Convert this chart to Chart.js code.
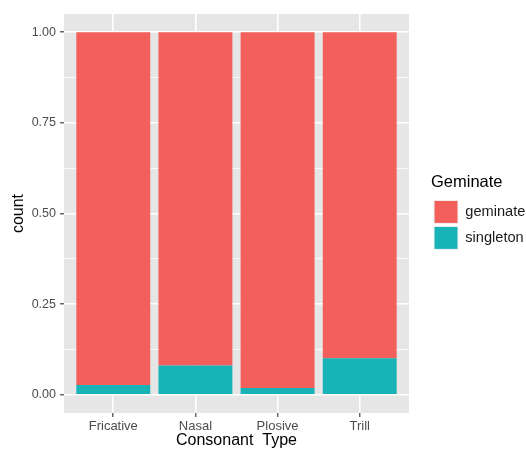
<!DOCTYPE html>
<html>
<head>
<meta charset="utf-8">
<script src="https://cdn.jsdelivr.net/npm/chart.js@4.4.0/dist/chart.umd.min.js"></script>
<style>
    html, body { margin: 0; padding: 0; background: #fff; }
    #wrap { width: 526px; height: 450px; }
</style>
</head>
<body>
<div id="wrap"><canvas id="chart"></canvas></div>
<script>
// Data (share of each consonant type)
const categories = ['Fricative', 'Nasal', 'Plosive', 'Trill'];
const singletonShare = [0.027, 0.081, 0.019, 0.101];
const geminateShare = [0.973, 0.919, 0.981, 0.899];
const yTicks = [0, 0.125, 0.25, 0.375, 0.5, 0.625, 0.75, 0.875, 1];
const yLabels = ['0.00', '', '0.25', '', '0.50', '', '0.75', '', '1.00'];

const red = '#F35F5B';
const teal = '#18B3B7';
const panelGrey = '#E6E6E6';

Chart.defaults.font.family = '"Liberation Sans", Arial, sans-serif';

// Grey ggplot-like panel behind the grid
const panelBackground = {
    id: 'panelBackground',
    beforeDraw(chart) {
        const { ctx, chartArea: a } = chart;
        ctx.save();
        ctx.fillStyle = panelGrey;
        ctx.fillRect(a.left, a.top, a.right - a.left, a.bottom - a.top);
        ctx.restore();
    }
};

// Legend box runs to the right edge so the labels are not clipped
const legendWidth = {
    id: 'legendWidth',
    afterInit(chart) {
        const lg = chart.legend;
        const fit = lg.fit.bind(lg);
        lg.fit = () => {
            fit();
            lg.width = 95;
        };
    }
};

const isMajor = (i) => yLabels[i] !== '';

new Chart(document.getElementById('chart'), {
    type: 'bar',
    data: {
        datasets: [{
            label: 'singleton',
            data: categories.map((c, i) => ({ x: i + 1, y: singletonShare[i] })),
            backgroundColor: teal,
            borderWidth: 0
        }, {
            label: 'geminate',
            data: categories.map((c, i) => ({ x: i + 1, y: geminateShare[i] })),
            backgroundColor: red,
            borderWidth: 0
        }]
    },
    options: {
        responsive: true,
        maintainAspectRatio: false,
        animation: false,
        barPercentage: 0.9,
        categoryPercentage: 1.0,
        layout: {
            padding: { top: 14, left: 0, right: 0, bottom: 0 }
        },
        plugins: {
            tooltip: { enabled: false },
            legend: {
                position: 'right',
                align: 'center',
                fullSize: false,
                reverse: true,
                title: {
                    display: true,
                    text: 'Geminate',
                    color: '#000',
                    position: 'start',
                    font: { size: 16.5 },
                    padding: { top: 0, bottom: 3 }
                },
                labels: {
                    boxWidth: 24,
                    boxHeight: 23,
                    padding: 3,
                    color: '#1a1a1a',
                    font: { size: 14.6 },
                    generateLabels: (chart) => Chart.defaults.plugins.legend.labels.generateLabels(chart)
                        .map(item => ({ ...item, lineWidth: 1, strokeStyle: '#F4F4F4' }))
                }
            }
        },
        scales: {
            x: {
                type: 'linear',
                stacked: true,
                offset: false,
                min: 0.4,
                max: 4.6,
                afterBuildTicks: (scale) => {
                    scale.ticks = categories.map((c, i) => ({ value: i + 1 }));
                },
                afterFit: (scale) => { scale.height = 37; },
                border: { display: false },
                grid: {
                    offset: false,
                    color: '#fff',
                    lineWidth: 1.6,
                    tickColor: '#333',
                    tickLength: 4,
                    tickWidth: 1.1
                },
                ticks: {
                    autoSkip: false,
                    maxRotation: 0,
                    color: '#4D4D4D',
                    font: { size: 13 },
                    padding: 2,
                    callback: (v) => categories[v - 1]
                },
                title: {
                    display: true,
                    text: 'Consonant  Type',
                    color: '#000',
                    font: { size: 16 },
                    padding: { top: 0, bottom: 0 }
                }
            },
            y: {
                stacked: true,
                min: -0.05,
                max: 1.05,
                afterBuildTicks: (scale) => {
                    scale.ticks = yTicks.map(v => ({ value: v }));
                },
                afterFit: (scale) => { scale.width = 64; },
                border: { display: false },
                grid: {
                    color: '#fff',
                    lineWidth: (c) => isMajor(c.index) ? 1.6 : 0.8,
                    tickColor: (c) => isMajor(c.index) ? '#333' : 'rgba(0,0,0,0)',
                    tickLength: 4,
                    tickWidth: 1.1
                },
                ticks: {
                    autoSkip: false,
                    color: '#4D4D4D',
                    font: { size: 12.5 },
                    padding: 4,
                    callback: (v, i) => yLabels[i]
                },
                title: {
                    display: true,
                    text: 'count',
                    color: '#000',
                    font: { size: 16 },
                    padding: { top: 9, bottom: 0 }
                }
            },
            // empty spacer between the panel and the legend
            gap: {
                type: 'linear',
                axis: 'y',
                position: 'right',
                grid: { display: false },
                border: { display: false },
                ticks: { display: false },
                afterFit: (scale) => { scale.width = 22; }
            }
        }
    },
    plugins: [panelBackground, legendWidth]
});
</script>
</body>
</html>
